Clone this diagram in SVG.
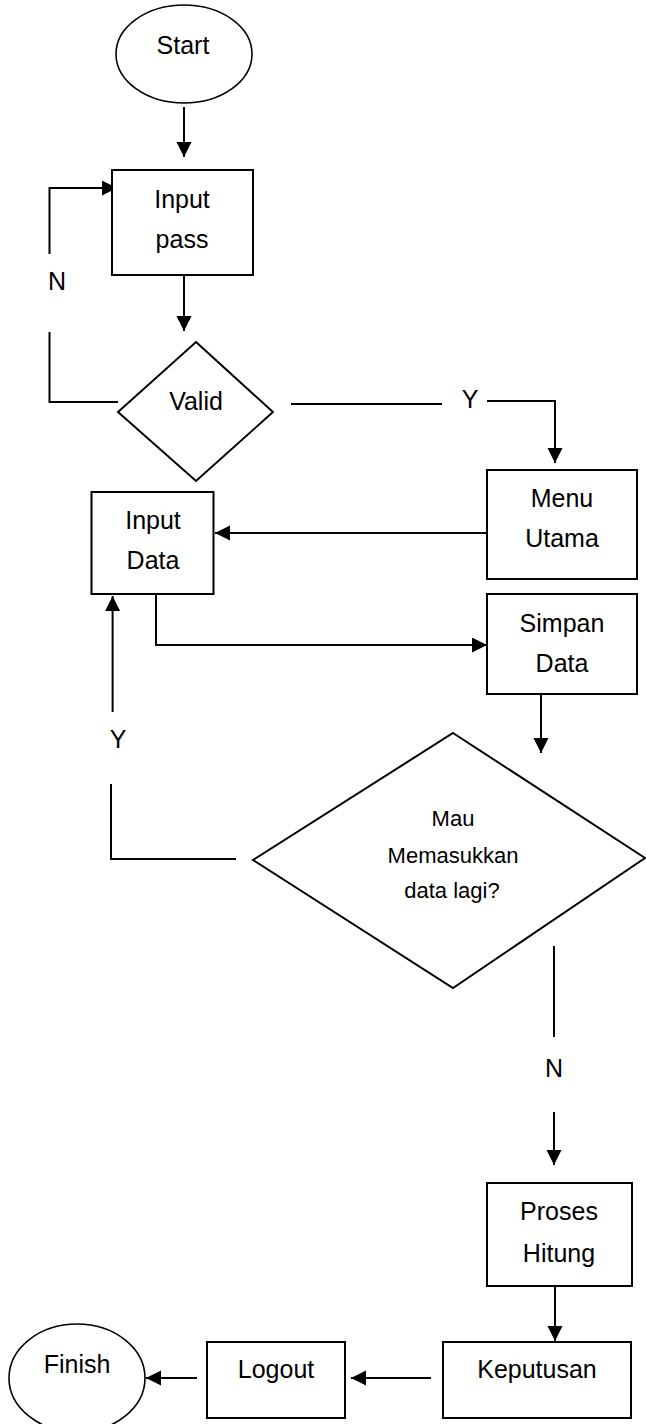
<svg xmlns="http://www.w3.org/2000/svg" width="646" height="1424" viewBox="0 0 646 1424">
<style>
.shape{fill:#fff;stroke:#000;stroke-width:2}
.ell{fill:#fff;stroke:#000;stroke-width:1.6}
.t{font-family:"Liberation Sans",Arial,sans-serif;font-size:25px;fill:#000;text-anchor:middle}
.ts{font-family:"Liberation Sans",Arial,sans-serif;font-size:22px;fill:#000;text-anchor:middle}
.c{fill:none;stroke:#000;stroke-width:2}
.a{marker-end:url(#ah)}
</style>
<defs>
<marker id="ah" markerUnits="userSpaceOnUse" markerWidth="16" markerHeight="16" refX="15" refY="7.5" orient="auto">
<path d="M0,0 L15,7.5 L0,15 z" fill="#000"/>
</marker>
</defs>
<rect width="646" height="1424" fill="#fff"/>
<g id="connectors">
<path class="c a" d="M184,107 V157"/>
<path class="c a" d="M184,275 V331"/>
<path class="c" d="M118,402 H49.5 V332"/>
<path class="c a" d="M49.5,254 V188 H117"/>
<path class="c" d="M291,404 H442"/>
<path class="c a" d="M487,401 H555 V463"/>
<path class="c a" d="M487,533 H215"/>
<path class="c a" d="M156,594 V645 H487"/>
<path class="c a" d="M541,694 V753"/>
<path class="c" d="M236,859 H111 V784"/>
<path class="c a" d="M112.6,712 V596"/>
<path class="c" d="M554,946 V1037"/>
<path class="c a" d="M554,1112 V1165"/>
<path class="c a" d="M555,1286 V1341"/>
<path class="c a" d="M431,1378 H351"/>
<path class="c a" d="M197,1378 H146"/>
<text class="t" x="57" y="290">N</text>
<text class="t" x="470" y="408">Y</text>
<text class="t" x="118" y="748">Y</text>
<text class="t" x="554" y="1077">N</text>
</g>
<g id="start">
<ellipse class="ell" cx="184" cy="54" rx="68" ry="49"/>
<text class="t" x="183" y="54">Start</text>
</g>
<g id="input-pass">
<rect class="shape" x="112" y="170" width="141" height="105"/>
<text class="t" x="182" y="208">Input</text>
<text class="t" x="182" y="248">pass</text>
</g>
<g id="valid">
<polygon class="shape" points="196,342 273,412 196,481 118,412"/>
<text class="t" x="196" y="410">Valid</text>
</g>
<g id="menu-utama">
<rect class="shape" x="487" y="470" width="150" height="109"/>
<text class="t" x="562" y="507">Menu</text>
<text class="t" x="562" y="547">Utama</text>
</g>
<g id="input-data">
<rect class="shape" x="91.5" y="492" width="122" height="102"/>
<text class="t" x="153" y="529">Input</text>
<text class="t" x="153" y="569">Data</text>
</g>
<g id="simpan-data">
<rect class="shape" x="487" y="594" width="150" height="100"/>
<text class="t" x="562" y="632">Simpan</text>
<text class="t" x="562" y="672">Data</text>
</g>
<g id="mau-lagi">
<polygon class="shape" points="453,733 645,858 453,988 253,860"/>
<text class="ts" x="453" y="826">Mau</text>
<text class="ts" x="453" y="863">Memasukkan</text>
<text class="ts" x="452" y="898">data lagi?</text>
</g>
<g id="proses-hitung">
<rect class="shape" x="487" y="1183" width="145" height="103"/>
<text class="t" x="559" y="1220">Proses</text>
<text class="t" x="559" y="1262">Hitung</text>
</g>
<g id="keputusan">
<rect class="shape" x="443" y="1342" width="188" height="76"/>
<text class="t" x="537" y="1378">Keputusan</text>
</g>
<g id="logout">
<rect class="shape" x="207" y="1342" width="138" height="76"/>
<text class="t" x="276" y="1378">Logout</text>
</g>
<g id="finish">
<ellipse class="ell" cx="77" cy="1378" rx="68" ry="54"/>
<text class="t" x="77" y="1373">Finish</text>
</g>
</svg>
